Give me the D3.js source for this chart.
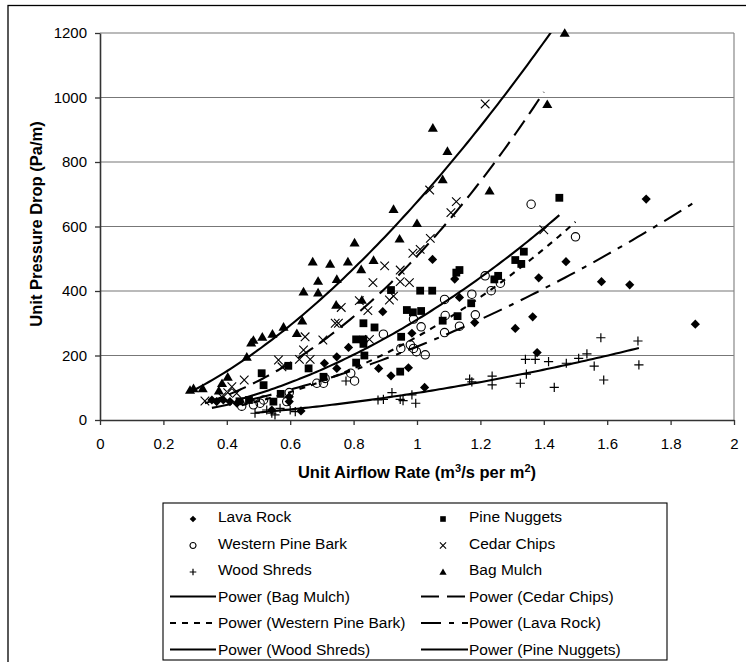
<!DOCTYPE html>
<html lang="en">
<head>
<meta charset="UTF-8">
<title>Unit Pressure Drop vs Unit Airflow Rate</title>
<script src="https://d3js.org/d3.v7.min.js"></script>
<style>
  body { margin: 0; background: #fff; }
  svg { display: block; font-family: "Liberation Sans", Arial, sans-serif; }
</style>
</head>
<body>
<svg width="746" height="662"></svg>
<script>
// points: [airflow (m3/s per m2), pressure drop (Pa/m)]
var lavaRock = [[0.353,62],[0.368,57],[0.389,62],[0.41,57],[0.432,52],[0.542,31],[0.597,57],[0.597,72],
  [0.634,28],[0.708,176],[0.747,196],[0.747,160],[0.784,225],[0.879,160],[0.892,336],[0.918,137],
  [0.973,162],[0.984,269],[1.024,101],[1.049,498],[1.119,437],[1.129,460],[1.134,380],[1.182,302],
  [1.31,284],[1.365,320],[1.379,209],[1.384,441],[1.47,491],[1.582,429],[1.671,419],[1.723,685],[1.878,297]];
var pineNuggets = [[0.44,58],[0.47,62],[0.51,145],[0.516,108],[0.547,57],[0.57,81],[0.594,168],[0.658,160],
  [0.705,134],[0.808,178],[0.808,250],[0.831,250],[0.831,236],[0.831,300],[0.834,200],[0.866,287],
  [0.918,403],[0.947,150],[0.95,258],[0.968,341],[0.987,334],[1.01,401],[1.013,338],[1.048,401],
  [1.081,308],[1.124,457],[1.128,322],[1.134,465],[1.171,362],[1.244,436],[1.256,447],[1.31,496],
  [1.329,484],[1.337,522],[1.449,689]];
var westernPineBark = [[0.447,43],[0.484,47],[0.505,52],[0.516,62],[0.589,57],[0.597,85],[0.684,114],
  [0.705,114],[0.71,129],[0.791,145],[0.803,121],[0.894,266],[0.949,222],[0.979,233],[0.989,222],
  [0.989,313],[0.998,212],[1.013,289],[1.026,202],[1.087,374],[1.087,271],[1.089,324],[1.134,291],
  [1.173,390],[1.184,326],[1.215,447],[1.234,401],[1.263,424],[1.36,669],[1.5,568]];
var cedarChips = [[0.331,59],[0.384,72],[0.403,85],[0.416,103],[0.431,83],[0.455,124],[0.563,186],
  [0.574,165],[0.629,188],[0.642,217],[0.647,258],[0.663,188],[0.703,248],[0.742,300],[0.752,300],
  [0.761,349],[0.818,370],[0.845,339],[0.85,250],[0.861,426],[0.898,478],[0.913,372],[0.926,384],
  [0.947,429],[0.947,465],[0.976,426],[0.987,517],[1.01,529],[1.04,713],[1.042,563],[1.107,643],
  [1.124,677],[1.215,980],[1.4,590]];
var woodShreds = [[0.489,21],[0.526,31],[0.542,21],[0.552,16],[0.568,36],[0.6,31],[0.616,26],[0.776,121],
  [0.877,62],[0.894,64],[0.921,85],[0.947,64],[0.956,60],[0.984,78],[0.996,52],[1.166,127],[1.173,118],
  [1.237,136],[1.237,109],[1.326,114],[1.342,188],[1.345,142],[1.373,188],[1.415,181],[1.433,101],
  [1.471,176],[1.51,191],[1.536,205],[1.559,167],[1.58,255],[1.589,124],[1.697,245],[1.7,171]];
var bagMulch = [[0.284,93],[0.295,98],[0.324,98],[0.375,91],[0.385,114],[0.403,134],[0.463,196],
  [0.477,240],[0.484,248],[0.512,258],[0.544,267],[0.579,289],[0.621,269],[0.638,308],[0.642,398],
  [0.671,491],[0.688,431],[0.688,395],[0.726,484],[0.745,357],[0.747,437],[0.782,491],[0.803,550],
  [0.824,467],[0.826,372],[0.863,496],[0.926,654],[0.945,562],[1.0,610],[1.05,906],[1.081,746],
  [1.096,834],[1.229,711],[1.411,979],[1.466,1200]];

var seriesNames = ["Lava Rock", "Pine Nuggets", "Western Pine Bark", "Cedar Chips", "Wood Shreds", "Bag Mulch"];
var seriesData = [lavaRock, pineNuggets, westernPineBark, cedarChips, woodShreds, bagMulch];

// power trend lines y = a * x^b (coefficients estimated from the drawn curves)
var trendNames = ["Bag Mulch", "Cedar Chips", "Western Pine Bark", "Lava Rock", "Wood Shreds", "Pine Nuggets"];
var trendA = [676, 508, 258, 227.6, 83.9, 311];
var trendB = [1.633, 2.063, 2.14, 1.729, 1.844, 1.926];

var xTicks = [0, 0.2, 0.4, 0.6, 0.8, 1, 1.2, 1.4, 1.6, 1.8, 2];
var yTicks = [0, 200, 400, 600, 800, 1000, 1200];

var svg = d3.select("svg"),
    plot = {left: 100, right: 734, top: 33, bottom: 420};

var x = d3.scaleLinear().domain([0, 2]).range([plot.left, plot.right]),
    y = d3.scaleLinear().domain([0, 1200]).range([plot.bottom, plot.top]);

// outer chart frame (runs off the right and bottom of the picture)
svg.append("rect")
   .attr("x", 8).attr("y", 5.5).attr("width", 800).attr("height", 800)
   .attr("fill", "none").attr("stroke", "#000").attr("stroke-width", 1.3);

svg.append("defs").append("clipPath").attr("id", "plotclip")
   .append("rect")
   .attr("x", plot.left).attr("y", plot.top)
   .attr("width", plot.right - plot.left).attr("height", plot.bottom - plot.top);

// gridlines
svg.append("g").selectAll("line")
   .data(yTicks.filter(d => d > 0))
   .join("line")
   .attr("x1", plot.left).attr("x2", plot.right)
   .attr("y1", d => y(d)).attr("y2", d => y(d))
   .attr("stroke", "#777").attr("stroke-width", 1.2);

svg.append("line")
   .attr("x1", plot.right).attr("x2", plot.right)
   .attr("y1", plot.top).attr("y2", plot.bottom)
   .attr("stroke", "#888").attr("stroke-width", 1.2);

// axes
var yAxis = svg.append("g")
   .attr("transform", "translate(" + plot.left + ",0)")
   .call(d3.axisLeft(y).tickValues(yTicks).tickSize(5).tickPadding(8).tickSizeOuter(0)
          .tickFormat(d3.format("d")));
var xAxis = svg.append("g")
   .attr("transform", "translate(0," + plot.bottom + ")")
   .call(d3.axisBottom(x).tickValues(xTicks).tickSize(5).tickPadding(13).tickSizeOuter(0)
          .tickFormat(d3.format("")));

[yAxis, xAxis].forEach(function(a) {
    a.select(".domain").attr("stroke", "#333").attr("stroke-width", 1.6);
    a.selectAll(".tick line").attr("stroke", "#333").attr("stroke-width", 1.3);
    a.selectAll(".tick text")
     .attr("fill", "#000")
     .style("font-family", "'Liberation Sans', Arial, sans-serif")
     .style("font-size", "15px");
});

// axis titles
svg.append("text")
   .attr("transform", "translate(42,224) rotate(-90)")
   .attr("text-anchor", "middle")
   .style("font-weight", "bold").style("font-size", "16.5px")
   .text("Unit Pressure Drop (Pa/m)");

var xt = svg.append("text")
   .attr("x", 417).attr("y", 478)
   .attr("text-anchor", "middle")
   .style("font-weight", "bold").style("font-size", "16.5px");
xt.append("tspan").text("Unit Airflow Rate (m");
xt.append("tspan").attr("dy", -6).style("font-size", "11px").text("3");
xt.append("tspan").attr("dy", 6).text("/s per m");
xt.append("tspan").attr("dy", -6).style("font-size", "11px").text("2");
xt.append("tspan").attr("dy", 6).text(")");

// marker shapes, s = scale
function drawMarker(g, name, s) {
    var k = s || 1;
    if (name === "Lava Rock") {
        var r = 4.6 * k;
        g.append("path").attr("d", "M0," + (-r) + "L" + r + ",0L0," + r + "L" + (-r) + ",0Z").attr("fill", "#000");
    } else if (name === "Pine Nuggets") {
        var h = 3.9 * k;
        g.append("rect").attr("x", -h).attr("y", -h).attr("width", 2 * h).attr("height", 2 * h).attr("fill", "#000");
    } else if (name === "Western Pine Bark") {
        g.append("circle").attr("r", 4.2 * k).attr("fill", "none").attr("stroke", "#000").attr("stroke-width", 1.1);
    } else if (name === "Cedar Chips") {
        var c = 4.3 * k;
        g.append("path").attr("d", "M" + (-c) + "," + (-c) + "L" + c + "," + c + "M" + (-c) + "," + c + "L" + c + "," + (-c))
         .attr("stroke", "#000").attr("stroke-width", 1.1);
    } else if (name === "Wood Shreds") {
        var p = 4.6 * k;
        g.append("path").attr("d", "M" + (-p) + ",0L" + p + ",0M0," + (-p) + "L0," + p)
         .attr("stroke", "#000").attr("stroke-width", 1.2);
    } else if (name === "Bag Mulch") {
        var t = 4.8 * k;
        g.append("path").attr("d", "M0," + (-t) + "L" + (t * 1.05) + "," + (t * 0.8) + "L" + (-t * 1.05) + "," + (t * 0.8) + "Z")
         .attr("fill", "#000");
    }
}

var trendDash = {
    "Bag Mulch": null,
    "Cedar Chips": "18,8",
    "Western Pine Bark": "6,6",
    "Lava Rock": "20,8,5,8",
    "Wood Shreds": null,
    "Pine Nuggets": null
};

// scatter points
seriesNames.forEach(function(name, i) {
    var grp = svg.append("g");
    seriesData[i].forEach(function(d) {
        var m = grp.append("g").attr("transform", "translate(" + x(d[0]) + "," + y(d[1]) + ")");
        drawMarker(m, name);
    });
});

// power trend lines over each series' x range
var line = d3.line().x(d => x(d[0])).y(d => y(d[1]));
var trendG = svg.append("g").attr("clip-path", "url(#plotclip)");
trendNames.forEach(function(name, i) {
    var pts = seriesData[seriesNames.indexOf(name)];
    var ext = d3.extent(pts, d => d[0]);
    var curve = d3.range(0, 101).map(function(k) {
        var xv = ext[0] + (ext[1] - ext[0]) * k / 100;
        return [xv, trendA[i] * Math.pow(xv, trendB[i])];
    });
    trendG.append("path")
          .attr("d", line(curve))
          .attr("fill", "none").attr("stroke", "#000").attr("stroke-width", 2.1)
          .attr("stroke-dasharray", trendDash[name]);
});

// legend
var legend = svg.append("g");
legend.append("rect")
      .attr("x", 163).attr("y", 503).attr("width", 504).attr("height", 157)
      .attr("fill", "#fff").attr("stroke", "#000").attr("stroke-width", 1.1);

var legendItems = seriesNames.map(n => ({name: n, trend: false}))
    .concat(trendNames.map(n => ({name: n, trend: true})));

legendItems.forEach(function(it, i) {
    var col = i % 2, row = Math.floor(i / 2);
    var base = 522 + row * 26.5;
    var textX = col === 0 ? 218 : 469;
    if (it.trend) {
        legend.append("line")
              .attr("x1", col === 0 ? 170 : 421).attr("x2", col === 0 ? 216 : 468)
              .attr("y1", base - 5).attr("y2", base - 5)
              .attr("stroke", "#000").attr("stroke-width", 2.1)
              .attr("stroke-dasharray", trendDash[it.name]);
    } else {
        var m = legend.append("g")
              .attr("transform", "translate(" + (col === 0 ? 193 : 443) + "," + (base - 3) + ")");
        drawMarker(m, it.name, 0.72);
    }
    legend.append("text")
          .attr("x", textX).attr("y", base)
          .style("font-size", "15.5px")
          .text(it.trend ? "Power (" + it.name + ")" : it.name);
});
</script>
</body>
</html>
